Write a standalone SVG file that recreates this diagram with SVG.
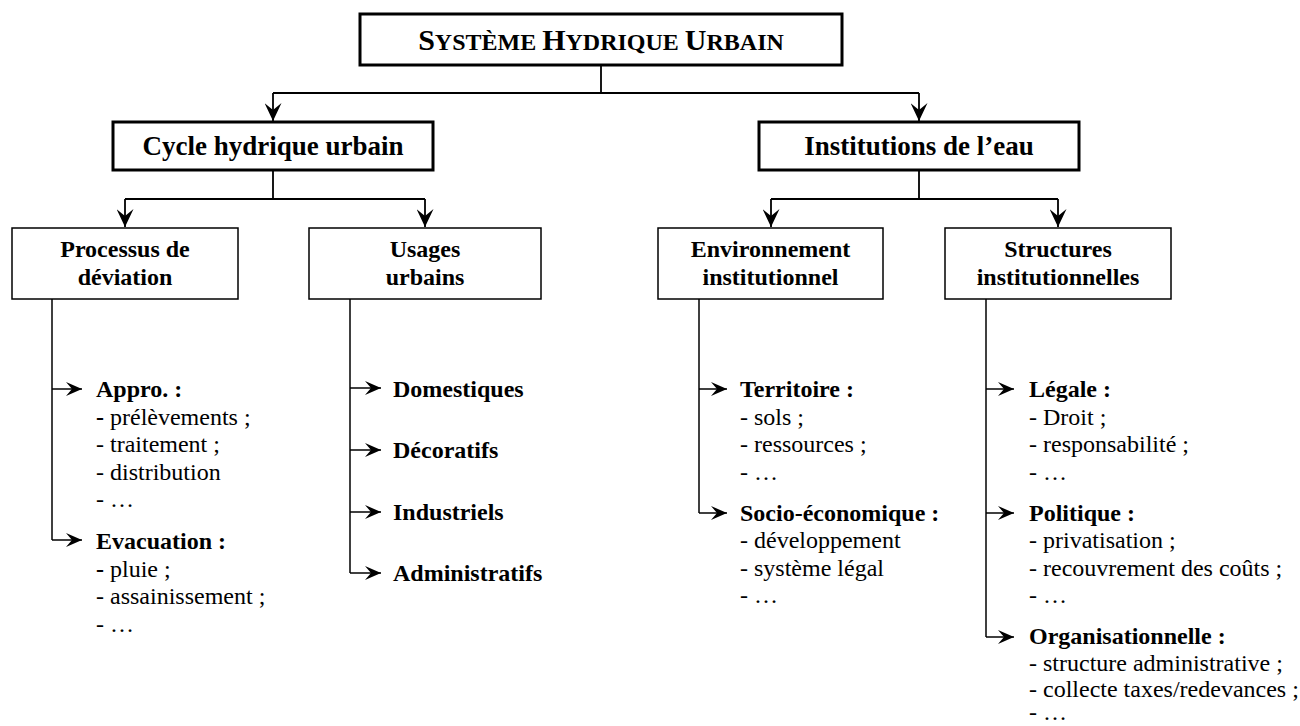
<svg xmlns="http://www.w3.org/2000/svg" width="1300" height="726" viewBox="0 0 1300 726">
<style>
text{font-family:"Liberation Serif","Times New Roman",serif;fill:#000}
.t{font-size:27px;font-weight:bold;text-anchor:middle}
.h{font-size:24px;font-weight:bold;text-anchor:middle}
.b{font-size:24px;font-weight:bold}
.r{font-size:24px}
.bx1{fill:#fff;stroke:#000;stroke-width:3}
.bx2{fill:#fff;stroke:#000;stroke-width:1.5}
.c{fill:none;stroke:#000;stroke-width:1.8}
.cl{fill:none;stroke:#000;stroke-width:1.5}
</style>
<defs>
<marker id="ad" markerUnits="userSpaceOnUse" markerWidth="19" markerHeight="17" refX="18" refY="8.5" orient="auto" viewBox="0 0 19 17">
<path d="M0,0 L18,8.5 L0,17 L7,8.5 z" fill="#000"/>
</marker>
<marker id="ah" markerUnits="userSpaceOnUse" markerWidth="17" markerHeight="14" refX="16" refY="7" orient="auto" viewBox="0 0 17 14">
<path d="M0,0 L16,7 L0,14 L6,7 z" fill="#000"/>
</marker>
</defs>

<g id="connectors">
<path class="c" d="M601,65 V93 M273,93 H919"/>
<path class="c" d="M273,93 V121" marker-end="url(#ad)"/>
<path class="c" d="M919,93 V121" marker-end="url(#ad)"/>
<path class="c" d="M273,170 V199 M125,199 H425"/>
<path class="c" d="M125,199 V227" marker-end="url(#ad)"/>
<path class="c" d="M425,199 V227" marker-end="url(#ad)"/>
<path class="c" d="M919,170 V199 M771,199 H1058"/>
<path class="c" d="M771,199 V227" marker-end="url(#ad)"/>
<path class="c" d="M1058,199 V227" marker-end="url(#ad)"/>

<path class="cl" d="M52,299 V540"/>
<path class="cl" d="M52,389 H82" marker-end="url(#ah)"/>
<path class="cl" d="M52,540 H82" marker-end="url(#ah)"/>

<path class="cl" d="M350,299 V573"/>
<path class="cl" d="M350,388 H381" marker-end="url(#ah)"/>
<path class="cl" d="M350,450 H381" marker-end="url(#ah)"/>
<path class="cl" d="M350,512 H381" marker-end="url(#ah)"/>
<path class="cl" d="M350,573 H381" marker-end="url(#ah)"/>

<path class="cl" d="M699,299 V513"/>
<path class="cl" d="M699,389 H727" marker-end="url(#ah)"/>
<path class="cl" d="M699,513 H727" marker-end="url(#ah)"/>

<path class="cl" d="M986,299 V637"/>
<path class="cl" d="M986,389 H1014" marker-end="url(#ah)"/>
<path class="cl" d="M986,513 H1014" marker-end="url(#ah)"/>
<path class="cl" d="M986,637 H1014" marker-end="url(#ah)"/>
</g>

<g id="systeme">
<rect class="bx1" x="360" y="14" width="482" height="51"/>
<text x="601" y="50" style="font-weight:bold;text-anchor:middle"><tspan font-size="30">S</tspan><tspan font-size="24">YSTÈME </tspan><tspan font-size="30">H</tspan><tspan font-size="24">YDRIQUE </tspan><tspan font-size="30">U</tspan><tspan font-size="24">RBAIN</tspan></text>
</g>

<g id="cycle">
<rect class="bx1" x="113" y="122" width="320" height="48"/>
<text class="t" x="273" y="155">Cycle hydrique urbain</text>
</g>

<g id="institutions">
<rect class="bx1" x="759" y="122" width="320" height="48"/>
<text class="t" x="919" y="155">Institutions de l’eau</text>
</g>

<g id="processus">
<rect class="bx2" x="12" y="228" width="226" height="71"/>
<text class="h" x="125" y="257">Processus de</text>
<text class="h" x="125" y="285">déviation</text>
</g>

<g id="usages">
<rect class="bx2" x="309" y="228" width="232" height="71"/>
<text class="h" x="425" y="257">Usages</text>
<text class="h" x="425" y="285">urbains</text>
</g>

<g id="environnement">
<rect class="bx2" x="658" y="228" width="225" height="71"/>
<text class="h" x="770.5" y="257">Environnement</text>
<text class="h" x="770.5" y="285">institutionnel</text>
</g>

<g id="structures">
<rect class="bx2" x="945" y="228" width="226" height="71"/>
<text class="h" x="1058" y="257">Structures</text>
<text class="h" x="1058" y="285">institutionnelles</text>
</g>

<g id="appro">
<text class="b" x="96" y="397">Appro. :</text>
<text class="r" x="96" y="424.5"><tspan font-weight="bold">-</tspan> prélèvements ;</text>
<text class="r" x="96" y="452">- traitement ;</text>
<text class="r" x="96" y="479.5">- distribution</text>
<text class="r" x="96" y="507">- …</text>
</g>

<g id="evacuation">
<text class="b" x="96" y="549">Evacuation :</text>
<text class="r" x="96" y="576.5"><tspan font-weight="bold">-</tspan> pluie ;</text>
<text class="r" x="96" y="604">- assainissement ;</text>
<text class="r" x="96" y="631.5">- …</text>
</g>

<g id="domestiques"><text class="b" x="393" y="397">Domestiques</text></g>
<g id="decoratifs"><text class="b" x="393" y="458">Décoratifs</text></g>
<g id="industriels"><text class="b" x="393" y="520">Industriels</text></g>
<g id="administratifs"><text class="b" x="393" y="581">Administratifs</text></g>

<g id="territoire">
<text class="b" x="740" y="397">Territoire :</text>
<text class="r" x="740" y="424.5">- sols ;</text>
<text class="r" x="740" y="452">- ressources ;</text>
<text class="r" x="740" y="479.5">- …</text>
</g>

<g id="socio">
<text class="b" x="740" y="521">Socio-économique :</text>
<text class="r" x="740" y="548">- développement</text>
<text class="r" x="740" y="575.5">- système légal</text>
<text class="r" x="740" y="603">- …</text>
</g>

<g id="legale">
<text class="b" x="1029" y="397">Légale :</text>
<text class="r" x="1029" y="424.5">- Droit ;</text>
<text class="r" x="1029" y="452">- responsabilité ;</text>
<text class="r" x="1029" y="479.5">- …</text>
</g>

<g id="politique">
<text class="b" x="1029" y="521">Politique :</text>
<text class="r" x="1029" y="548">- privatisation ;</text>
<text class="r" x="1029" y="575.5">- recouvrement des coûts ;</text>
<text class="r" x="1029" y="603">- …</text>
</g>

<g id="organisationnelle">
<text class="b" x="1029" y="644">Organisationnelle :</text>
<text class="r" x="1029" y="670.5">- structure administrative ;</text>
<text class="r" x="1029" y="696.5">- collecte taxes/redevances ;</text>
<text class="r" x="1029" y="720">- …</text>
</g>
</svg>
